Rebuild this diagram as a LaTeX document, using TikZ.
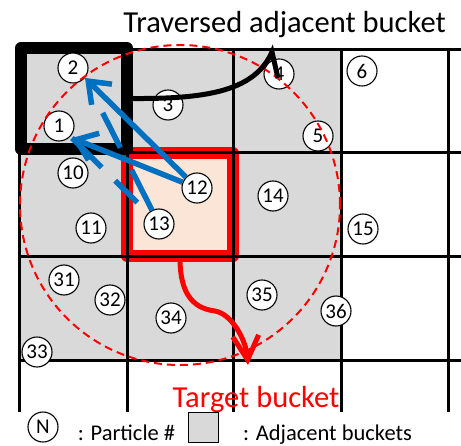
\documentclass[tikz,border=0pt]{standalone}
\usepackage{fontspec}
\setmainfont{Carlito}
\usetikzlibrary{arrows.meta}
\definecolor{pblue}{HTML}{0070C0}
\definecolor{pred}{HTML}{FF0000}
\definecolor{cellgray}{HTML}{D9D9D9}
\definecolor{peach}{HTML}{FBE5D6}
\begin{document}
\begin{tikzpicture}[x=1bp,y=-1bp,
  particle/.style={circle,draw,fill=white,line width=1.1bp,minimum size=30bp,inner sep=0pt,
    font=\fontsize{21bp}{21bp}\selectfont},
  gridline/.style={line width=3bp,black},
  tgtbox/.style={draw=pred,fill=peach,line width=12bp,line join=round,minimum width=106bp,minimum height=103bp,inner sep=0pt},
  travbox/.style={draw=black,line width=12bp,line join=round,minimum width=106bp,minimum height=101bp,inner sep=0pt},
  barrow/.style={pblue,line width=5.5bp,-{Straight Barb[length=19bp,width=29bp]}},
  bdash/.style={pblue,line width=5.5bp},
  rarrow/.style={pred,line width=5bp,-{Straight Barb[length=24bp,width=26bp]}},
  hookline/.style={black,line width=5bp,line join=miter},
  bigtext/.style={font=\fontsize{30.5bp}{31bp}\selectfont,anchor=base,inner sep=0pt},
  legtext/.style={font=\fontsize{22.5bp}{23bp}\selectfont,anchor=base,inner sep=0pt},
  legsquare/.style={draw,fill=cellgray,line width=1.3bp,minimum size=30bp,inner sep=0pt}
]
\useasboundingbox (0,0) rectangle (461,446);
% gray adjacent area
\fill[cellgray] (19,50) rectangle (341,360);
% target bucket
\node[tgtbox] (tgt) at (180,204.5) {};
% grid
\foreach \x in {19,127,233,341,448} \draw[gridline] (\x,50) -- (\x,412);
\foreach \y in {50,153,256,360} \draw[gridline] (19,\y) -- (461,\y);
% traversed bucket
\node[travbox] (trav) at (74,98.5) {};
% particles
\node[particle] (p1) at (59,126) {1};
\node[particle] (p2) at (73,68) {2};
\node[particle] (p3) at (168,105) {3};
\node[particle] (p4) at (279,74) {4};
\node[particle] (p5) at (318,136) {5};
\node[particle] (p6) at (362,71) {6};
\node[particle] (p10) at (73,173) {10};
\node[particle] (p11) at (91,228) {11};
\node[particle] (p12) at (197,188) {12};
\node[particle] (p13) at (159,224) {13};
\node[particle] (p14) at (273,196) {14};
\node[particle] (p15) at (363,229) {15};
\node[particle] (p31) at (64,280) {31};
\node[particle] (p32) at (110,300) {32};
\node[particle] (p33) at (37,352) {33};
\node[particle] (p34) at (171,318) {34};
\node[particle] (p35) at (262,295) {35};
\node[particle] (p36) at (336,311) {36};
% search radius
\draw[pred,line width=2bp,dash pattern=on 8bp off 5bp] (180,205) circle[radius=160bp];
% blue arrows
\coordinate (tipA) at (85,78);
\coordinate (tipB) at (72,138);
\draw[bdash,dash pattern=on 45bp off 25bp on 39bp off 60bp] (p13) -- (tipA);
\draw[bdash,dash pattern=on 31bp off 19bp on 42bp off 15bp,dash phase=92bp] (p13) -- (tipB);
\draw[barrow] (p12) -- (tipA);
\draw[barrow] (p12) -- (tipB);
% black hook curve
\coordinate (hookTop) at (272,52);
\coordinate (hookEnd) at (278,78);
\draw[hookline] (trav.east) .. controls (210,99) and (255,90) .. (hookTop) -- (hookEnd);
% red arrow
\coordinate (redTip) at (248,365);
\draw[rarrow] (tgt.south) .. controls (181,290) and (190,308) .. (215,311)
  .. controls (232,314) and (246,340) .. (redTip);
% labels
\node[bigtext] (lblTrav) at (284.5,33) {Traversed adjacent bucket};
\node[bigtext,text=pred] (lblTgt) at (256,407) {Target bucket};
% legend
\node[particle] (legN) at (43,427) {N};
\node[legtext] (legP) at (126.5,440.5) {: Particle \#};
\node[legsquare] (legSq) at (203.5,427.5) {};
\node[legtext] (legA) at (327.5,440.5) {: Adjacent buckets};
\end{tikzpicture}
\end{document}
